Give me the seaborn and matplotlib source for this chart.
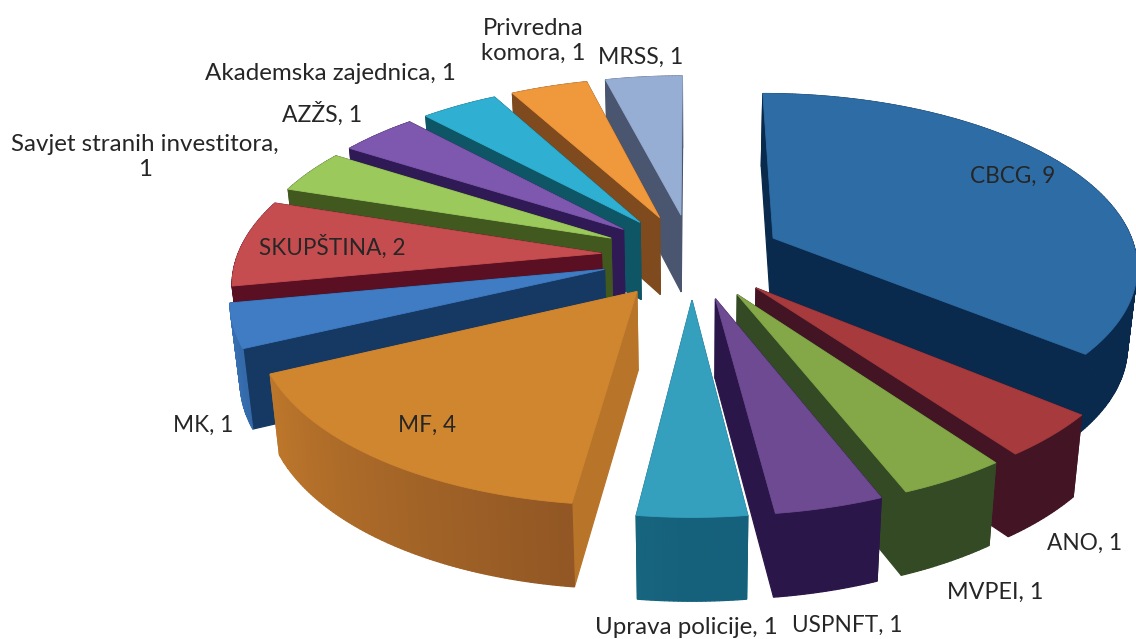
import numpy as np
import matplotlib
matplotlib.use('Agg')
import matplotlib.pyplot as plt
import seaborn as sns

categories = ['CBCG', 'ANO', 'MVPEI', 'USPNFT', 'Uprava policije', 'MF', 'MK', 'SKUPŠTINA',
              'Savjet stranih investitora', 'AZŽS', 'Akademska zajednica', 'Privredna komora', 'MRSS']
values = [9, 1, 1, 1, 1, 4, 1, 2, 1, 1, 1, 1, 1]

top_colors = ['#2E6CA6', '#A63A3D', '#84A848', '#6E4A92', '#35A0BE', '#D0852F', '#3F7CC4',
              '#C64D4F', '#9BC95C', '#7D58AE', '#2FB0D2', '#F0983C', '#97AED4']
wall_colors = ['#0A2A4D', '#431524', '#334A24', '#2A1648', '#15607A', '#8C5323', '#153962',
               '#5A0F22', '#41591F', '#2F1A55', '#0E5566', '#7E4A1E', '#4A5670']
radial_colors = wall_colors[:5] + ['#B87429'] + wall_colors[6:]

label_xy = [(1013, 176), (1085, 543), (995, 592), (847, 625), (686, 628), (427, 425), (203, 425),
            (332, 247), (145, 157), (322, 114), (330, 73), (533, 41), (641, 57)]
label_text = ['CBCG, 9', 'ANO, 1', 'MVPEI, 1', 'USPNFT, 1', 'Uprava policije, 1', 'MF, 4', 'MK, 1',
              'SKUPŠTINA, 2', 'Savjet stranih investitora,\n1', 'AZŽS, 1', 'Akademska zajednica, 1',
              'Privredna\nkomora, 1', 'MRSS, 1']
label_size = [16.3, 16.3, 16.8, 16.3, 17.4, 16.3, 16.3, 16.3, 17.4, 16.6, 17.4, 17.2, 16.6]

# view of the tilted pie
CX, CY = 692, 256
F, FK = 364, 170.7
PERSP = 0.147
EXPLODE = 0.25
DEPTH = 78


def project(x, y, bottom=False):
    s = 1 / (1 + PERSP * y)
    px = CX + F * x * s
    py = CY - FK * y * s
    if bottom:
        px = CX + (px - CX) * 0.978
        py = py + DEPTH * (1 - 0.06 * y)
    return px, py


def wall_light(deg):
    # left hand side of the rim catches the light
    deg = deg % 360
    if 180 <= deg < 259.2:
        return (deg - 180) / 80
    return 0.0


sns.set_theme(style='white')
plt.rcParams['font.family'] = ['Lato', 'DejaVu Sans']

fig = plt.figure(figsize=(11.36, 6.39), dpi=100)
ax = fig.add_axes([0, 0, 1, 1])
ax.set_xlim(0, 1136)
ax.set_ylim(639, 0)
ax.axis('off')

step = 360 / sum(values)
edges = np.cumsum([0] + values) * step
mids = (edges[:-1] + edges[1:]) / 2

# back slices first
for i in np.argsort(-np.cos(np.radians(mids))):
    a0, a1 = edges[i], edges[i + 1]
    m = np.radians(mids[i])
    ox, oy = EXPLODE * np.sin(m), EXPLODE * np.cos(m)
    th = np.radians(np.linspace(a0, a1, int((a1 - a0) / 0.6) + 1))
    rx, ry = ox + np.sin(th), oy + np.cos(th)
    shades = sns.blend_palette([wall_colors[i], top_colors[i]], 257)

    walls = []
    for ex, ey in [(rx[0], ry[0]), (rx[-1], ry[-1])]:
        pts = [project(ox, oy), project(ex, ey), project(ex, ey, True), project(ox, oy, True)]
        walls.append(((oy + ey) / 2, pts, radial_colors[i]))
    for j in range(len(th) - 1):
        pts = [project(rx[j], ry[j]), project(rx[j + 1], ry[j + 1]),
               project(rx[j + 1], ry[j + 1], True), project(rx[j], ry[j], True)]
        c = shades[int(round(wall_light(np.degrees(th[j])) * 0.9 * 256))]
        walls.append(((ry[j] + ry[j + 1]) / 2, pts, c))

    for _, pts, c in sorted(walls, key=lambda w: -w[0]):
        ax.fill(*zip(*pts), color=c, lw=0.9, zorder=2)

    top = [project(ox, oy)] + [project(x, y) for x, y in zip(rx, ry)]
    ax.fill(*zip(*top), color=top_colors[i], lw=0.6, zorder=2)

for (x, y), t, fs in zip(label_xy, label_text, label_size):
    ax.text(x, y, t, ha='center', va='center', fontsize=fs, color='#262626',
            linespacing=1.2, zorder=5)

fig.savefig('out.png', dpi=100)
